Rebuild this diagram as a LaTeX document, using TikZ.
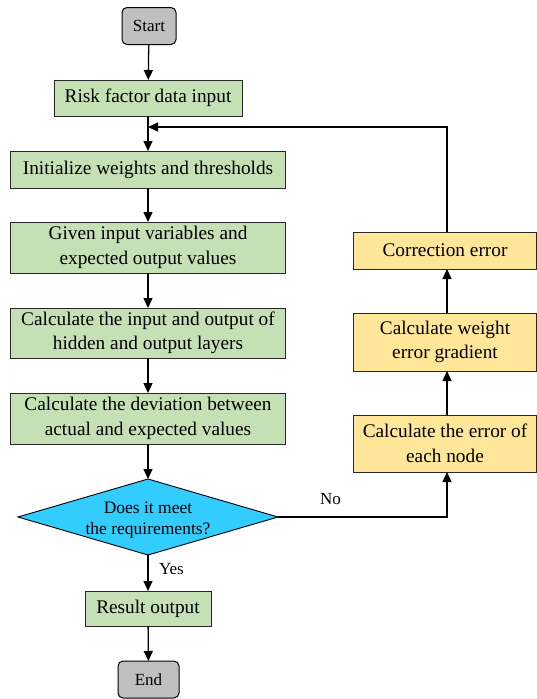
\documentclass[tikz,border=0pt]{standalone}
\usepackage{fontspec}
\setmainfont{Liberation Serif}
\usetikzlibrary{arrows.meta,shapes.geometric}
\definecolor{boxgreen}{RGB}{197,224,180}
\definecolor{boxyellow}{RGB}{255,230,153}
\definecolor{boxgray}{RGB}{191,191,191}
\definecolor{decblue}{RGB}{51,204,255}
\definecolor{edge}{RGB}{40,40,40}
\begin{document}
\begin{tikzpicture}[x=1pt,y=-1pt,
  every node/.style={inner sep=0pt, outer sep=0pt},
  greenbox/.style={draw=edge, line width=0.9pt, fill=boxgreen, align=center,
    font=\fontsize{19.3}{24.5}\selectfont},
  yellowbox/.style={draw=edge, line width=0.9pt, fill=boxyellow, align=center,
    font=\fontsize{19.3}{24.5}\selectfont},
  terminal/.style={draw=black, line width=1pt, fill=boxgray, rounded corners=5pt,
    font=\fontsize{17}{19}\selectfont},
  decision/.style={draw=black, line width=0.9pt, fill=decblue, diamond, aspect=3.4,
    align=center, font=\fontsize{17.5}{21.5}\selectfont},
  flow/.style={line width=1.3pt, -{Triangle[length=10pt,width=9pt]}},
  lbl/.style={font=\fontsize{17}{19}\selectfont}]
\useasboundingbox (0,0) rectangle (537,699);

% main column
\node[terminal, minimum width=54pt, minimum height=37pt] (start) at (149,26) {Start};
\node[greenbox, minimum width=188pt, minimum height=36pt] (risk) at (148,98) {Risk factor data input};
\node[greenbox, minimum width=275pt, minimum height=37pt] (init) at (148,169.5) {Initialize weights and thresholds};
\node[greenbox, minimum width=275pt, minimum height=51pt] (given) at (148,247.5) {Given input variables and\\expected output values};
\node[greenbox, minimum width=275pt, minimum height=50pt] (calc) at (148,333) {Calculate the input and output of\\hidden and output layers};
\node[greenbox, minimum width=275pt, minimum height=51pt] (dev) at (148,418.5) {Calculate the deviation between\\actual and expected values};
\node[decision, minimum width=260pt, minimum height=76pt] (dec) at (148,517) {};
\node[align=center, font=\fontsize{17.5}{21.5}\selectfont] (dectext) at (148,520) {Does it meet\\the requirements?};
\node[greenbox, minimum width=126pt, minimum height=35pt] (res) at (148,608.5) {Result output};
\node[terminal, minimum width=61pt, minimum height=37pt] (end) at (148.5,679.5) {End};

% feedback column
\node[yellowbox, minimum width=183pt, minimum height=57pt] (err) at (445,443.5) {Calculate the error of\\each node};
\node[yellowbox, minimum width=183pt, minimum height=58pt] (grad) at (445,342) {Calculate weight\\error gradient};
\node[yellowbox, minimum width=183pt, minimum height=37pt] (corr) at (445,250.5) {Correction error};

\coordinate (join) at (148,127);
\coordinate (turnup) at (447,517);
\coordinate (turnback) at (447,127);

% forward flow
\draw[flow] (start) -- (risk);
\draw[flow] (risk) -- (init);
\draw[flow] (init) -- (given);
\draw[flow] (given) -- (calc);
\draw[flow] (calc) -- (dev);
\draw[flow] (dev) -- (dec);
\draw[flow] (dec) -- node[lbl, right, xshift=11pt, yshift=4pt] {Yes} (res);
\draw[flow] (res) -- (end);

% back-propagation loop
\draw[flow] (dec.east) -- node[lbl, above, yshift=12pt, xshift=-32pt] {No} (turnup) -- (err.south -| turnup);
\draw[flow] (err.north -| turnup) -- (grad.south -| turnup);
\draw[flow] (grad.north -| turnup) -- (corr.south -| turnup);
\draw[flow] (corr.north -| turnup) -- (turnback) -- (join);
\end{tikzpicture}
\end{document}
